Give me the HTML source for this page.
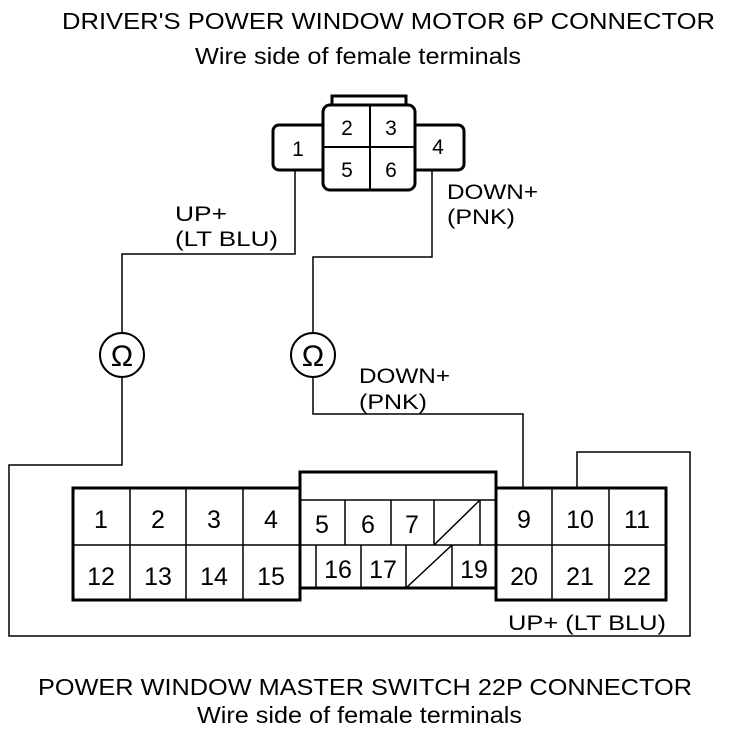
<!DOCTYPE html>
<html><head><style>
body{margin:0;background:#fff}
svg{display:block}
text{font-family:"Liberation Sans",sans-serif;fill:#000}
</style></head><body>
<svg width="736" height="730" viewBox="0 0 736 730">
<g font-size="23" lengthAdjust="spacingAndGlyphs">
<text x="62" y="29" textLength="653" lengthAdjust="spacingAndGlyphs">DRIVER'S POWER WINDOW MOTOR 6P CONNECTOR</text>
<text x="195" y="64" textLength="326" lengthAdjust="spacingAndGlyphs">Wire side of female terminals</text>
<text x="38" y="695" textLength="654" lengthAdjust="spacingAndGlyphs">POWER WINDOW MASTER SWITCH 22P CONNECTOR</text>
<text x="197" y="723" textLength="325" lengthAdjust="spacingAndGlyphs">Wire side of female terminals</text>
</g>
<g fill="none" stroke="#000" stroke-width="1.5">
<path d="M295 170V254H122V332M122 378V465H9V636H690V452H577V488"/>
<path d="M432 170V257H313V332M313 378V414H523V488"/>
<circle cx="122" cy="355" r="22" stroke-width="2"/>
<circle cx="313" cy="355" r="22" stroke-width="2"/>
</g>
<g font-size="30" text-anchor="middle"><text x="122" y="366">Ω</text><text x="313" y="366">Ω</text></g>
<g fill="#fff" stroke="#000" stroke-width="3">
<rect x="332" y="96" width="74" height="12"/>
<rect x="273" y="125" width="55" height="45" rx="6"/>
<rect x="410" y="125" width="54" height="45" rx="6"/>
<rect x="323" y="105" width="92" height="85" rx="7"/>
</g>
<g stroke="#000" stroke-width="2"><path d="M370 105V190M323 147H415"/></g>
<g font-size="21" text-anchor="middle">
<text x="298" y="156">1</text><text x="347" y="135">2</text><text x="391" y="135">3</text>
<text x="347" y="177">5</text><text x="391" y="177">6</text><text x="438" y="154">4</text>
</g>
<g font-size="21">
<text x="175" y="221" textLength="52" lengthAdjust="spacingAndGlyphs">UP+</text>
<text x="175" y="246" textLength="103" lengthAdjust="spacingAndGlyphs">(LT BLU)</text>
<text x="447" y="199" textLength="91" lengthAdjust="spacingAndGlyphs">DOWN+</text>
<text x="447" y="224" textLength="68" lengthAdjust="spacingAndGlyphs">(PNK)</text>
<text x="359" y="383" textLength="91" lengthAdjust="spacingAndGlyphs">DOWN+</text>
<text x="359" y="409" textLength="68" lengthAdjust="spacingAndGlyphs">(PNK)</text>
<text x="508" y="630" textLength="158" lengthAdjust="spacingAndGlyphs">UP+ (LT BLU)</text>
</g>
<g fill="none" stroke="#000">
<rect x="73" y="488" width="227" height="112" stroke-width="3"/>
<rect x="496" y="488" width="170" height="112" stroke-width="3"/>
<rect x="300" y="472" width="196" height="116" stroke-width="3"/>
<path stroke-width="1.5" d="M130 488V600M186 488V600M243 488V600M552 488V600M609 488V600M73 545H300M496 545H666M300 500H496M300 545H496M345 500V545M391 500V545M434 500V545M480 500V545M316 545V588M361 545V588M406 545V588M452 545V588M434 545L480 500M406 588L452 545"/>
</g>
<g font-size="25" text-anchor="middle">
<text x="101" y="528">1</text><text x="158" y="528">2</text><text x="214" y="528">3</text><text x="271" y="528">4</text>
<text x="101" y="585">12</text><text x="158" y="585">13</text><text x="214" y="585">14</text><text x="271" y="585">15</text>
<text x="322" y="533">5</text><text x="368" y="533">6</text><text x="412" y="533">7</text>
<text x="338" y="578">16</text><text x="383" y="578">17</text><text x="474" y="578">19</text>
<text x="524" y="528">9</text><text x="580" y="528">10</text><text x="637" y="528">11</text>
<text x="524" y="585">20</text><text x="580" y="585">21</text><text x="637" y="585">22</text>
</g>
</svg>
</body></html>
